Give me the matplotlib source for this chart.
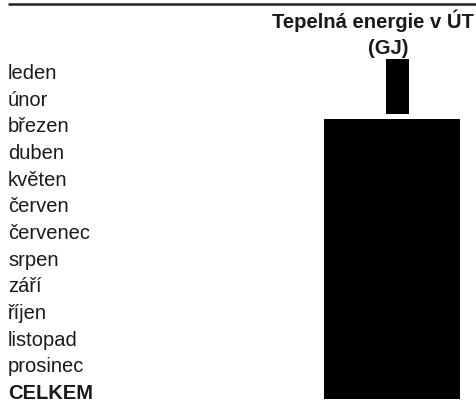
import matplotlib
matplotlib.use('Agg')
import matplotlib.pyplot as plt
from matplotlib.patches import Rectangle

plt.rcParams['font.family'] = ['Liberation Sans', 'DejaVu Sans']

# table contents
months = ['leden', 'únor', 'březen', 'duben', 'květen', 'červen', 'červenec',
          'srpen', 'září', 'říjen', 'listopad', 'prosinec']
total_label = 'CELKEM'
header = ['Tepelná energie v ÚT', '(GJ)']

# redacted cells (x0, y0, x1, y1) in page pixels
redactions = [(386, 60, 409, 115), (324, 120, 460, 400)]

W, H = 477, 402
fig = plt.figure(figsize=(W / 100, H / 100), dpi=100)
ax = fig.add_axes([0, 0, 1, 1])
ax.set_xlim(0, W)
ax.set_ylim(H, 0)
ax.axis('off')

# rule under the (cut off) caption
ax.plot([8, W], [5, 5], color='#222222', lw=1.8, solid_capstyle='butt')

# column header
ax.text(373, 28, header[0], ha='center', va='baseline', fontsize=14.6, fontweight='bold', color='#1a1a1a')
ax.text(388, 54, header[1], ha='center', va='baseline', fontsize=14.6, fontweight='bold', color='#1a1a1a')

# row labels
rows = months + [total_label]
y0, step = 79, 26.67
for i, name in enumerate(rows):
    bold = name == total_label
    ax.text(8, y0 + i * step, name, ha='left', va='baseline', fontsize=14.5,
            fontweight='bold' if bold else 'normal', color='#1a1a1a')

for x0, yy0, x1, yy1 in redactions:
    ax.add_patch(Rectangle((x0, yy0), x1 - x0, yy1 - yy0, facecolor='black', edgecolor='none'))

fig.savefig('out.png', dpi=100)
